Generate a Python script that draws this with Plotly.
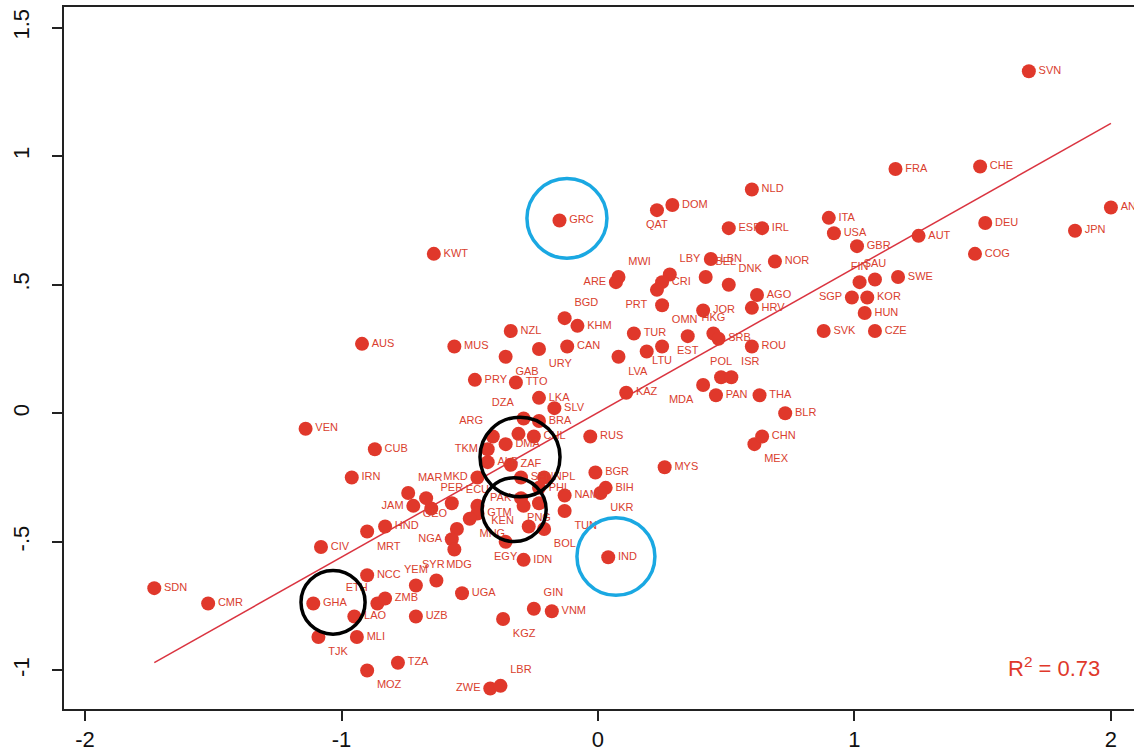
import numpy as np
import plotly.graph_objects as go

# ---- data ----
codes = ["SVN","FRA","CHE","AND","JPN","DEU","COG","AUT","ITA","USA","GBR","FIN","SAU","SWE","SGP","KOR","HUN","SVK","CZE",
         "NLD","DOM","QAT","ESP","IRL","LBN","LBY","CRI","PRT","BEL","DNK","NOR","AGO","HRV","JOR","OMN","HKG","SRB","ROU",
         "POL","ISR","MDA","PAN","TUR","EST","LTU","","LVA","KAZ","MWI","ARE","BGD","KHM","CAN","NZL","GAB","URY","TTO",
         "LKA","SLV","PRY","MUS","AUS","KWT","GRC","IND","DZA","BRA","ARG","","CHL","DMA","TKM","ALB","ZAF","MKD","SEN",
         "NPL","PHL","NAM","TUN","PER","ECU","PAK","GTM","KEN","PNG","BOL","","EGY","IDN","MNG","GEO","NGA","SYR","HND",
         "MRT","JAM","","MAR","","CIV","NCC","YEM","MDG","UGA","ETH","ZMB","GHA","LAO","MLI","UZB","TJK","MOZ","TZA",
         "ZWE","LBR","GIN","VNM","KGZ","SDN","CMR","RUS","BGR","BIH","UKR","MYS","MEX","CHN","THA","BLR","VEN","CUB","IRN"]
xvals = [1.68,1.16,1.49,2.00,1.86,1.51,1.47,1.25,0.90,0.92,1.01,1.02,1.08,1.17,0.99,1.05,1.04,0.88,1.08,
         0.60,0.29,0.23,0.51,0.64,0.44,0.28,0.25,0.23,0.42,0.51,0.69,0.62,0.60,0.41,0.25,0.45,0.47,0.60,
         0.48,0.52,0.41,0.46,0.14,0.35,0.25,0.19,0.08,0.11,0.08,0.07,-0.13,-0.08,-0.12,-0.34,-0.36,-0.23,-0.32,
         -0.23,-0.17,-0.48,-0.56,-0.92,-0.64,-0.15,0.04,-0.29,-0.23,-0.41,-0.31,-0.25,-0.36,-0.43,-0.43,-0.34,-0.47,-0.30,
         -0.21,-0.23,-0.13,-0.13,-0.57,-0.47,-0.30,-0.47,-0.29,-0.23,-0.21,-0.27,-0.36,-0.29,-0.50,-0.55,-0.57,-0.56,-0.83,
         -0.90,-0.72,-0.65,-0.74,-0.67,-1.08,-0.90,-0.71,-0.63,-0.53,-0.86,-0.83,-1.11,-0.95,-0.94,-0.71,-1.09,-0.90,-0.78,
         -0.42,-0.38,-0.25,-0.18,-0.37,-1.73,-1.52,-0.03,-0.01,0.03,0.01,0.26,0.61,0.64,0.63,0.73,-1.14,-0.87,-0.96]
yvals = [1.33,0.95,0.96,0.80,0.71,0.74,0.62,0.69,0.76,0.70,0.65,0.51,0.52,0.53,0.45,0.45,0.39,0.32,0.32,
         0.87,0.81,0.79,0.72,0.72,0.60,0.54,0.51,0.48,0.53,0.50,0.59,0.46,0.41,0.40,0.42,0.31,0.29,0.26,
         0.14,0.14,0.11,0.07,0.31,0.30,0.26,0.24,0.22,0.08,0.53,0.51,0.37,0.34,0.26,0.32,0.22,0.25,0.12,
         0.06,0.02,0.13,0.26,0.27,0.62,0.75,-0.56,-0.02,-0.03,-0.09,-0.08,-0.09,-0.12,-0.14,-0.19,-0.20,-0.25,-0.25,
         -0.25,-0.29,-0.32,-0.38,-0.35,-0.36,-0.33,-0.39,-0.36,-0.35,-0.45,-0.44,-0.50,-0.57,-0.41,-0.45,-0.49,-0.53,-0.44,
         -0.46,-0.36,-0.37,-0.31,-0.33,-0.52,-0.63,-0.67,-0.65,-0.70,-0.74,-0.72,-0.74,-0.79,-0.87,-0.79,-0.87,-1.00,-0.97,
         -1.07,-1.06,-0.76,-0.77,-0.80,-0.68,-0.74,-0.09,-0.23,-0.29,-0.31,-0.21,-0.12,-0.09,0.07,0.00,-0.06,-0.14,-0.25]
r2_text = "0.73"

# label placement (style only)
label_pos = {
    "FIN": "top center", "SAU": "top center", "SGP": "middle left", "QAT": "bottom center",
    "LBY": "top right", "PRT": "bottom left", "BEL": "top right", "DNK": "top right",
    "OMN": "bottom right", "HKG": "top center", "POL": "top center", "ISR": "top right",
    "MDA": "bottom left", "EST": "bottom center", "LTU": "bottom center", "LVA": "bottom right",
    "MWI": "top right", "ARE": "middle left", "BGD": "top right", "GAB": "bottom right",
    "URY": "bottom right", "DZA": "top left", "ARG": "top left", "TKM": "middle left",
    "MKD": "middle left", "TUN": "bottom right", "PER": "top center", "ECU": "top center",
    "PAK": "middle left", "KEN": "bottom left", "PNG": "bottom center", "BOL": "bottom right",
    "EGY": "bottom center", "MNG": "bottom right", "GEO": "top left", "NGA": "middle left",
    "SYR": "bottom left", "MRT": "bottom right", "JAM": "middle left", "MAR": "top right",
    "YEM": "top center", "MDG": "top right", "ETH": "top left", "TJK": "bottom right",
    "MOZ": "bottom right", "ZWE": "middle left", "LBR": "top right", "GIN": "top right",
    "KGZ": "bottom right", "UKR": "bottom right", "MEX": "bottom right",
}

RED = "#E0382B"
LABEL_RED = "#D9402E"
FONT = "Liberation Sans Narrow, Liberation Sans, Arial, sans-serif"

fig = go.Figure()

# fitted line
xa = np.array(xvals); ya = np.array(yvals)
slope, intercept = np.polyfit(xa, ya, 1)
xl = np.array([xa.min(), xa.max()])
fig.add_trace(go.Scatter(x=xl, y=slope * xl + intercept, mode="lines",
                         line=dict(color="#DA3440", width=1.5), hoverinfo="skip", showlegend=False))

# points whose label is hidden under neighbours in the reference
idx_plain = [i for i, c in enumerate(codes) if c == ""]
idx_lab = [i for i, c in enumerate(codes) if c != ""]

fig.add_trace(go.Scatter(
    x=[xvals[i] for i in idx_plain], y=[yvals[i] for i in idx_plain], mode="markers",
    marker=dict(size=14, color=RED, line=dict(width=0)), showlegend=False))

fig.add_trace(go.Scatter(
    x=[xvals[i] for i in idx_lab], y=[yvals[i] for i in idx_lab], mode="markers+text",
    text=[codes[i] for i in idx_lab],
    textposition=[label_pos.get(codes[i], "middle right") for i in idx_lab],
    marker=dict(size=14, color=RED, line=dict(width=0)),
    textfont=dict(family=FONT, size=11, color=LABEL_RED),
    showlegend=False, cliponaxis=True))

# highlight circles (centre x, centre y, radius in x units, radius in y units, colour)
circles = [(-0.121, 0.758, 0.156, 0.155, "#1AA8E2"),
           (0.070, -0.557, 0.152, 0.151, "#1AA8E2"),
           (-0.304, -0.170, 0.156, 0.155, "#000000"),
           (-0.327, -0.375, 0.125, 0.124, "#000000"),
           (-1.033, -0.735, 0.125, 0.124, "#000000")]
for cx, cy, rx, ry, col in circles:
    fig.add_shape(type="circle", xref="x", yref="y", x0=cx - rx, x1=cx + rx, y0=cy - ry, y1=cy + ry,
                  line=dict(color=col, width=3.5), layer="above")

fig.add_annotation(xref="paper", yref="paper", x=0.970, y=0.060, xanchor="right", yanchor="middle",
                   text="R<sup>2</sup> = " + r2_text, showarrow=False,
                   font=dict(family=FONT, size=22, color=RED))

fig.update_layout(
    width=1134, height=752, margin=dict(l=64, r=0, t=7, b=41),
    paper_bgcolor="white", plot_bgcolor="white",
    xaxis=dict(range=[-2.082, 2.09], tickvals=[-2, -1, 0, 1, 2], ticktext=["-2", "-1", "0", "1", "2"],
               showgrid=False, zeroline=False, showline=True, linecolor="#222", linewidth=2, mirror=True,
               ticks="outside", ticklen=10, tickwidth=2, tickcolor="#222",
               tickfont=dict(family=FONT, size=22, color="#111")),
    yaxis=dict(range=[-1.15, 1.58], tickvals=[-1, -0.5, 0, 0.5, 1, 1.5],
               ticktext=["-1", "-.5", "0", ".5", "1", "1.5"], tickangle=-90,
               showgrid=False, zeroline=False, showline=True, linecolor="#222", linewidth=2,
               ticks="outside", ticklen=10, tickwidth=2, tickcolor="#222", ticklabelstandoff=14,
               tickfont=dict(family=FONT, size=22, color="#111")),
)

fig.write_html("out.html", config={"displayModeBar": False},
               post_script="document.body.style.margin='0';")
